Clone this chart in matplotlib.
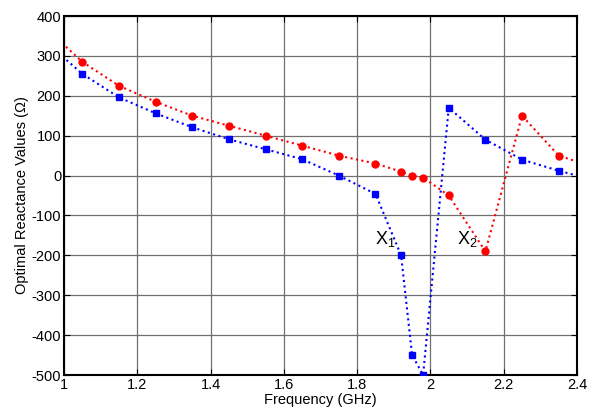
import matplotlib
matplotlib.use("Agg")
from matplotlib import pyplot as plt

plt.rcParams['font.family'] = ['Liberation Sans', 'DejaVu Sans']
plt.rcParams['mathtext.fontset'] = 'custom'
plt.rcParams['mathtext.rm'] = 'Liberation Sans'
plt.rcParams['mathtext.it'] = 'Liberation Sans'
plt.rcParams['axes.unicode_minus'] = False

# frequency points (GHz); the end points lie just outside the axis limits
freq = [0.95, 1.05, 1.15, 1.25, 1.35, 1.45, 1.55, 1.65, 1.75, 1.85, 1.92, 1.95, 1.98,
        2.05, 2.15, 2.25, 2.35, 2.45]
x1 = [335, 255, 196, 156, 121, 91, 66, 41, 0, -46, -200, -450, -500,
      170, 90, 40, 12, -12]
x2 = [370, 285, 225, 185, 150, 125, 100, 75, 50, 30, 10, 0, -5,
      -50, -190, 150, 50, 20]

fig = plt.figure(figsize=(5.91, 4.11), dpi=100)
ax = fig.add_axes([64 / 591, 1 - 375 / 411, 513 / 591, 359 / 411])

ax.plot(freq[1:-1], x1[1:-1], 's', color='blue', ms=4.5, zorder=3)
ax.plot(freq, x1, ':', color='blue', lw=1.5, zorder=2)
ax.plot(freq[1:-1], x2[1:-1], 'o', color='red', ms=5, zorder=3)
ax.plot(freq, x2, ':', color='red', lw=1.5, zorder=2)

ax.set_xlim(1, 2.4)
ax.set_ylim(-500, 400)
ax.set_xticks([1, 1.2, 1.4, 1.6, 1.8, 2, 2.2, 2.4])
ax.set_xticklabels(['1', '1.2', '1.4', '1.6', '1.8', '2', '2.2', '2.4'])
ax.set_yticks(range(-500, 401, 100))
ax.grid(True, color='#707070', lw=0.9)
ax.tick_params(direction='in', top=True, right=True, labelsize=10.5, length=4, pad=2)
for s in ax.spines.values():
    s.set_linewidth(1.5)

ax.set_xlabel('Frequency (GHz)', fontsize=10.5, labelpad=1)
ax.set_ylabel('Optimal Reactance Values (Ω)', fontsize=10.5, labelpad=2)

ax.text(1.848, -158, r'X$_\mathregular{1}$', fontsize=13, ha='left', va='center')
ax.text(2.073, -158, r'X$_\mathregular{2}$', fontsize=13, ha='left', va='center')

fig.savefig('out.png', dpi=100)
